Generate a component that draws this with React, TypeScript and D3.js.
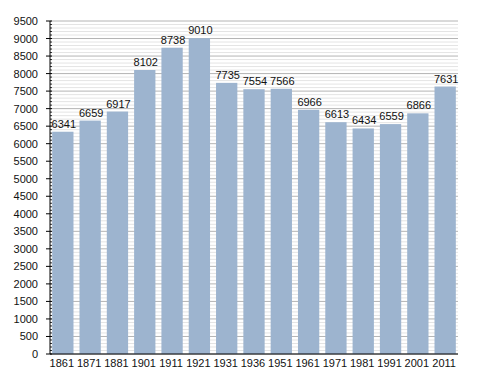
import React from 'react';
import * as d3 from 'd3';

// Population by census year
const years = ['1861', '1871', '1881', '1901', '1911', '1921', '1931', '1936', '1951', '1961', '1971', '1981', '1991', '2001', '2011'];
const population = [6341, 6659, 6917, 8102, 8738, 9010, 7735, 7554, 7566, 6966, 6613, 6434, 6559, 6866, 7631];
const yTicks = d3.range(0, 9501, 500);

const W = 488;
const H = 373;
const left = 50;
const right = 458;
const top = 21;
const bottom = 354;

const App = () => {
  const x = d3.scaleBand<string>().domain(years).range([left, right]).paddingInner(0.22).paddingOuter(0.08);
  const y = d3.scaleLinear().domain([0, 9500]).range([bottom, top]);
  const minor = d3.range(0, 9501, 100).filter(v => v % 500 !== 0);
  const font = 'Liberation Sans, Arial, sans-serif';

  return (
    <svg width={W} height={H} style={{ position: 'absolute', left: 0, top: 0, background: '#fff' }} fontFamily={font}>
      {/* minor grid */}
      {minor.map(v => (
        <line key={'m' + v} x1={left} x2={right} y1={y(v)} y2={y(v)} stroke="#e4e4e4" strokeWidth={1} />
      ))}
      {/* major grid */}
      {yTicks.map(v => (
        <line key={'g' + v} x1={left} x2={right} y1={y(v)} y2={y(v)} stroke="#b4b4b4" strokeWidth={1} />
      ))}
      {/* bars */}
      {population.map((v, i) => (
        <rect key={years[i]} x={x(years[i])} y={y(v)} width={x.bandwidth()} height={bottom - y(v)} fill="#9db4cf" />
      ))}
      {/* value labels */}
      {population.map((v, i) => (
        <text key={'l' + i} x={(x(years[i]) as number) + x.bandwidth() / 2 + 1} y={y(v) - 4} textAnchor="middle" fontSize={11} fill="#111">
          {v}
        </text>
      ))}
      {/* axes */}
      <line x1={left} x2={left} y1={top} y2={bottom} stroke="#000" />
      <line x1={left} x2={right} y1={bottom} y2={bottom} stroke="#000" />
      {minor.map(v => (
        <line key={'mt' + v} x1={left} x2={left + 2} y1={y(v)} y2={y(v)} stroke="#000" strokeWidth={0.8} />
      ))}
      {yTicks.map(v => (
        <g key={'t' + v}>
          <line x1={left - 4} x2={left + 2} y1={y(v)} y2={y(v)} stroke="#000" />
          <text x={left - 12} y={y(v) + 4} textAnchor="end" fontSize={11} fill="#111">{v}</text>
        </g>
      ))}
      {years.map(yr => (
        <text key={'x' + yr} x={(x(yr) as number) + x.bandwidth() / 2 - 1} y={bottom + 13} textAnchor="middle" fontSize={11} fill="#111">
          {yr}
        </text>
      ))}
    </svg>
  );
};

export default App;
